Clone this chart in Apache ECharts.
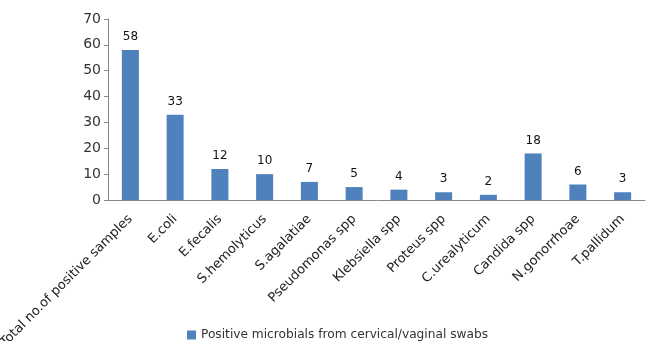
<!DOCTYPE html>
<html>
<head>
<meta charset="utf-8">
<script src="https://cdn.jsdelivr.net/npm/echarts@6/dist/echarts.min.js"></script>
<style>
  html, body { margin: 0; padding: 0; background: #fff; }
  #chart { width: 647px; height: 341px; }
</style>
</head>
<body>
<div id="chart"></div>
<script>
// categories and counts
var categories = [
  "Total no.of positive samples", "E.coli", "E.fecalis", "S.hemolyticus",
  "S.agalatiae", "Pseudomonas spp", "Klebsiella spp", "Proteus spp",
  "C.urealyticum", "Candida spp", "N.gonorrhoae", "T.pallidum"
];
var counts = [58, 33, 12, 10, 7, 5, 4, 3, 2, 18, 6, 3];
var seriesName = "Positive microbials from cervical/vaginal swabs";

var myChart = echarts.init(document.getElementById("chart"));

myChart.setOption({
  animation: false,
  textStyle: { fontFamily: "DejaVu Sans" },
  grid: { left: 108, right: 2, top: 19, bottom: 141, containLabel: false, outerBoundsMode: "none" },
  legend: {
    data: [seriesName],
    left: 182,
    top: 324,
    itemWidth: 9,
    itemHeight: 9,
    itemGap: 6,
    icon: "rect",
    textStyle: { fontSize: 12.2, color: "#333" }
  },
  xAxis: {
    type: "category",
    data: categories,
    axisLine: { lineStyle: { color: "#888" } },
    axisTick: { show: false },
    axisLabel: { rotate: 45, fontSize: 13, color: "#222", interval: 0, margin: 17 }
  },
  yAxis: {
    type: "value",
    min: 0,
    max: 70,
    interval: 10,
    splitLine: { show: false },
    axisLine: { show: true, lineStyle: { color: "#888" } },
    axisTick: { show: true, length: 4, lineStyle: { color: "#888" } },
    axisLabel: { fontSize: 14, color: "#333", margin: 7 }
  },
  series: [{
    name: seriesName,
    type: "bar",
    data: counts,
    barWidth: "38%",
    itemStyle: { color: "#4F81BD" },
    label: { show: true, position: "top", distance: 7, fontSize: 12, color: "#111" }
  }]
});
</script>
</body>
</html>
